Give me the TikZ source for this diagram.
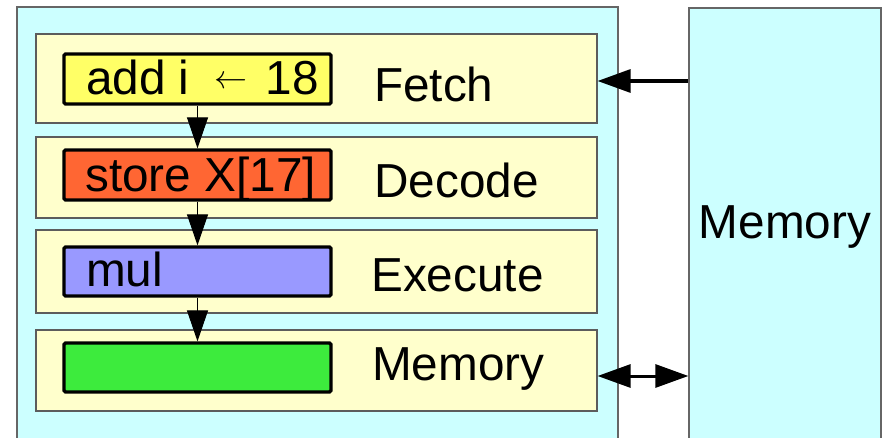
\documentclass[tikz,border=0pt]{standalone}
\usepackage{fontspec}
\usepackage{graphicx}
\setmainfont{Liberation Sans}
\usetikzlibrary{arrows.meta}
\definecolor{cpubg}{HTML}{CCFFFF}
\definecolor{stagebg}{HTML}{FFFFCC}
\definecolor{fetchc}{HTML}{FFFF66}
\definecolor{decodec}{HTML}{FF6633}
\definecolor{execc}{HTML}{9999FF}
\definecolor{memc}{HTML}{3DEB3D}
\definecolor{edge}{HTML}{666666}
\tikzset{
  unit/.style={draw=edge, line width=1.3pt, fill=cpubg, inner sep=0pt},
  stagebox/.style={draw=edge!90!black, line width=1.2pt, fill=stagebg, inner sep=0pt},
  instr/.style={draw=black, line width=3.2pt, rounded corners=1.5pt, inner sep=0pt, minimum width=267pt},
  big/.style={font=\fontsize{47.7}{52}\selectfont, inner sep=0pt, anchor=base west},
  flow/.style={line width=1pt, -{Triangle[length=31pt,width=21pt]}},
  bus/.style={line width=3.2pt, -{Triangle[length=33pt,width=23pt]}},
  dbus/.style={line width=3pt, {Triangle[length=33pt,width=23pt]}-{Triangle[length=33pt,width=23pt]}},
}
\begin{document}
\begin{tikzpicture}[x=1pt,y=-1pt]
\useasboundingbox (0,0) rectangle (886,438);
\clip (0,0) rectangle (886,438);
\fill[white] (0,0) rectangle (886,438);

% processor and main memory
\node[unit, minimum width=601pt, minimum height=453pt] (cpu) at (317.5,233.5) {};
\node[unit, minimum width=192pt, minimum height=452pt] (mem) at (785,234) {};
\node[big, anchor=base] (memlabel) at (785,239) {Memory};

% pipeline stages
\node[stagebox, minimum width=561pt, minimum height=89pt] (sfetch) at (316.5,78.5) {};
\node[stagebox, minimum width=561pt, minimum height=81pt] (sdecode) at (316.5,177.5) {};
\node[stagebox, minimum width=561pt, minimum height=83pt] (sexec) at (316.5,271.5) {};
\node[stagebox, minimum width=561pt, minimum height=81pt] (smem) at (316.5,370.5) {};

\node[big] (lfetch) at (374,101.7) {Fetch};
\node[big] (ldecode) at (374,198) {Decode};
\node[big] (lexec) at (371,292) {Execute};
\node[big] (lmem) at (372,380) {Memory};

% instructions in flight
\node[instr, fill=fetchc, minimum height=50pt] (ifetch) at (197.5,79) {};
\node[instr, fill=decodec, minimum height=50pt] (idecode) at (197.5,175) {};
\node[instr, fill=execc, minimum height=49pt] (iexec) at (197.5,271.5) {};
\node[instr, fill=memc, minimum height=49pt] (imem) at (197.5,367.5) {};

\node[big] (tfetch) at (86,95) {add i\hspace{25pt}\raisebox{6pt}{\resizebox{33pt}{!}{$\leftarrow$}}\hspace{18pt}18};
\node[big] (tdecode) at (85,192) {store X[17]};
\node[big] (texec) at (86,287) {mul};

% flow between stages
\draw[flow] (ifetch.south) -- (idecode.north);
\draw[flow] (idecode.south) -- (iexec.north);
\draw[flow] (iexec.south) -- (imem.north);

% memory traffic
\draw[bus] (mem.west |- 0,81) -- (sfetch.east |- 0,81);
\draw[dbus] (smem.east |- 0,376) -- (mem.west |- 0,376);
\end{tikzpicture}
\end{document}
